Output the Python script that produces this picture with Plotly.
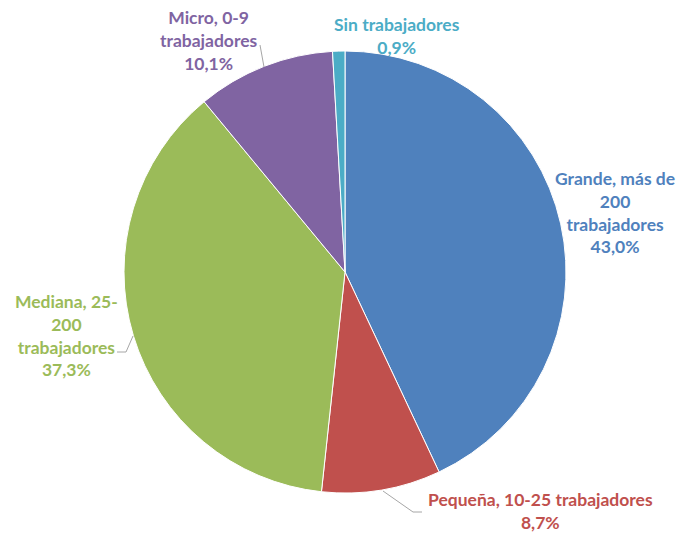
import plotly.graph_objects as go

categories = ["Grande, más de 200 trabajadores", "Pequeña, 10-25 trabajadores",
              "Mediana, 25-200 trabajadores", "Micro, 0-9 trabajadores", "Sin trabajadores"]
values = [43.0, 8.7, 37.3, 10.1, 0.9]
colors = ["#4F81BD", "#C0504D", "#9BBB59", "#8064A2", "#4BACC6"]
label_texts = ["Grande, más de<br>200<br>trabajadores", "Pequeña, 10-25 trabajadores",
               "Mediana, 25-<br>200<br>trabajadores", "Micro, 0-9<br>trabajadores", "Sin trabajadores"]
pct_texts = ["43,0%", "8,7%", "37,3%", "10,1%", "0,9%"]

W, H = 678, 533


def px(x, y):
    return x / W, 1 - y / H


cx, cy, r = 345, 272, 221
x0, y0 = px(cx - r, cy + r)
x1, y1 = px(cx + r, cy - r)

fig = go.Figure(go.Pie(
    labels=categories, values=values, sort=False, direction="clockwise", rotation=0,
    marker=dict(colors=colors, line=dict(color="white", width=1)),
    textinfo="none", hoverinfo="label+percent", showlegend=False,
    domain=dict(x=[x0, x1], y=[y0, y1]),
))

# label centers in window pixels
label_pos = [(615, 212), (540, 511), (66, 335), (209, 40), (397, 36)]
for txt, pct, col, (lx, ly) in zip(label_texts, pct_texts, colors, label_pos):
    ax, ay = px(lx, ly)
    fig.add_annotation(
        x=ax, y=ay, xref="paper", yref="paper", xanchor="center", yanchor="middle",
        text=f"<b>{txt}<br>{pct}</b>", showarrow=False, align="center",
        font=dict(family="Lato", size=17.5, color=col),
    )

leaders = [
    [(260, 45), (264, 67)],
    [(117, 352), (126, 352), (133, 336)],
    [(383, 491), (413, 512), (422, 512)],
]
for pts in leaders:
    path = "M " + " L ".join("{},{}".format(*px(x, y)) for x, y in pts)
    fig.add_shape(type="path", path=path, xref="paper", yref="paper",
                  line=dict(color="#A6A6A6", width=1))

fig.update_layout(width=W, height=H, margin=dict(l=0, r=0, t=0, b=0),
                  paper_bgcolor="white", plot_bgcolor="white", separators=",.")
fig.write_html("out.html", config={"displayModeBar": False},
               post_script="document.body.style.margin='0';document.body.style.overflow='hidden';")
